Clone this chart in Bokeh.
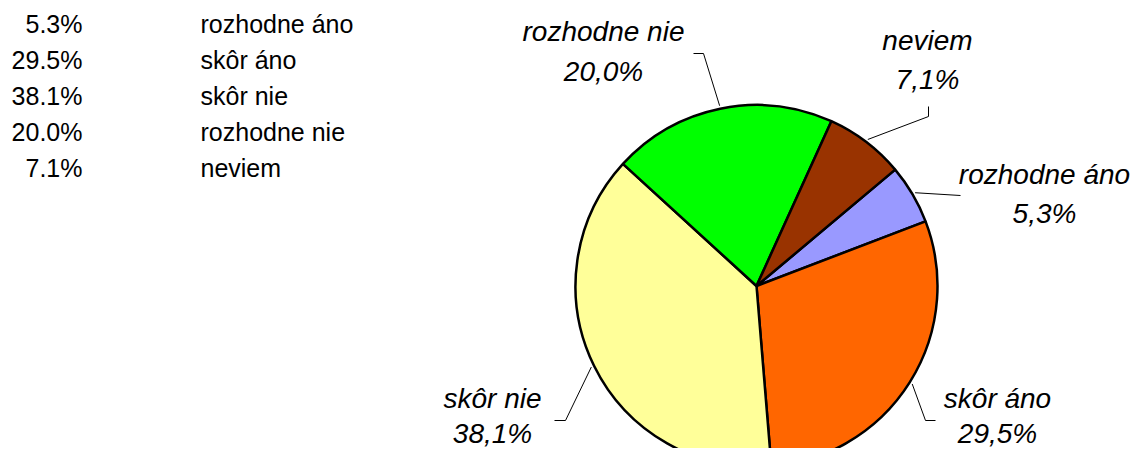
import math
from bokeh.plotting import figure
from bokeh.models import Range1d
from bokeh.core.properties import value
from bokeh.embed import file_html
from bokeh.resources import INLINE

# ---- data ----
categories = ["rozhodne áno", "skôr áno", "skôr nie", "rozhodne nie", "neviem"]
percent = [5.3, 29.5, 38.1, 20.0, 7.1]
colors = ["#9999FF", "#FF6600", "#FFFF99", "#00FF00", "#993300"]

# ---- layout (picture pixel coordinates, y downward) ----
W, H = 1131, 448
CX, CY, R = 756, 285.5, 181
FIRST_ANGLE = 40.0  # degrees (math), slices run clockwise from here
TEXT_DY = -8        # renderer baseline correction

# table
TABLE_PCT_X = 82
TABLE_NAME_X = 200
TABLE_BASE_Y0 = 31
TABLE_STEP = 36.2

# data-label anchor (center x, first-line baseline y, line spacing) per category
label_pos = [(1044, 182, 39), (997, 406, 35), (492, 406, 35), (603, 39, 40), (927, 48, 39)]
# leader line extra points (after the point on the pie edge)
leader_pts = [
    [(960, 195)],
    [(925, 420), (935, 420)],
    [(565, 420), (554, 420)],
    [(703, 53), (693, 53)],
    [(928, 116), (928, 106)],
]

p = figure(width=W, height=H, output_backend="svg", toolbar_location=None,
           x_range=Range1d(0, W), y_range=Range1d(-H, 0),
           min_border=0)
p.axis.visible = False
p.grid.visible = False
p.outline_line_color = None
p.background_fill_color = "white"
p.border_fill_color = "white"

def Y(py):
    return -py

def TY(py):
    return -(py + TEXT_DY)

# wedges
total = sum(percent)
cum = 0.0
starts, ends, mids = [], [], []
for v in percent:
    a_prev = math.radians(FIRST_ANGLE - cum / total * 360)
    cum += v
    a_next = math.radians(FIRST_ANGLE - cum / total * 360)
    starts.append(a_next)
    ends.append(a_prev)
    mids.append((a_prev + a_next) / 2)

p.wedge(x=[CX] * len(percent), y=[Y(CY)] * len(percent), radius=R,
        start_angle=starts, end_angle=ends, direction="anticlock",
        fill_color=colors, line_color="black", line_width=2.5)

# leaders
for m, pts in zip(mids, leader_pts):
    ex = CX + (R + 3) * math.cos(m)
    ey = CY - (R + 3) * math.sin(m)
    xs = [ex] + [q[0] for q in pts]
    ys = [Y(ey)] + [Y(q[1]) for q in pts]
    p.line(xs, ys, line_color="black", line_width=1)

# data labels
for cat, v, (lx, ly, ls) in zip(categories, percent, label_pos):
    p.text(x=[lx, lx], y=[TY(ly), TY(ly + ls)],
           text=[cat, f"{v:.1f}%".replace(".", ",")],
           text_align="center", text_baseline="alphabetic",
           text_font=value("Liberation Sans"), text_font_style="italic",
           text_font_size="28px", text_color="black")

# table
for i, (cat, v) in enumerate(zip(categories, percent)):
    by = TABLE_BASE_Y0 + i * TABLE_STEP
    p.text(x=[TABLE_PCT_X], y=[TY(by)], text=[f"{v:.1f}%"],
           text_align="right", text_baseline="alphabetic",
           text_font=value("Liberation Sans"), text_font_size="25px",
           text_color="black")
    p.text(x=[TABLE_NAME_X], y=[TY(by)], text=[cat],
           text_align="left", text_baseline="alphabetic",
           text_font=value("Liberation Sans"), text_font_size="25px",
           text_color="black")

open("out.html", "w").write(file_html(p, INLINE))
